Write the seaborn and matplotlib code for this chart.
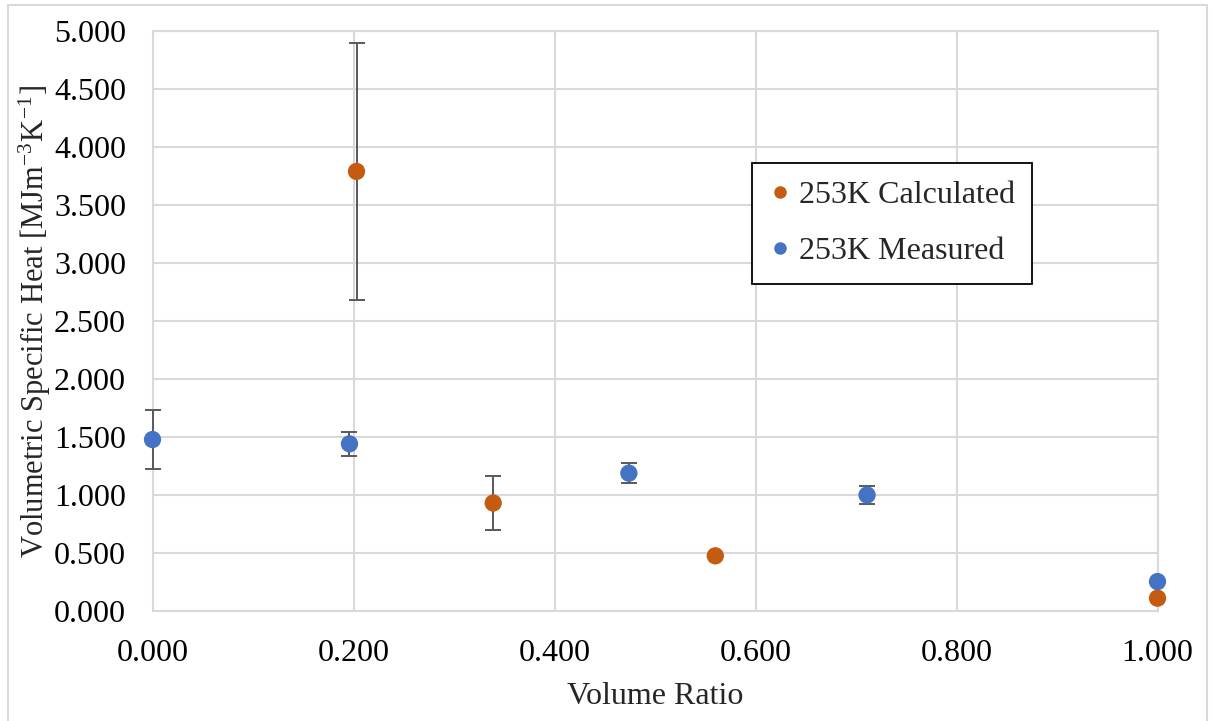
import numpy as np
import pandas as pd
import matplotlib
matplotlib.use("Agg")
import matplotlib.pyplot as plt
import seaborn as sns
from matplotlib.patches import Rectangle
from matplotlib.ticker import FormatStrFormatter, MultipleLocator

# Volume ratio and volumetric specific heat (MJ m^-3 K^-1) at 253 K
calc_ratio = [0.203, 0.339, 0.560, 1.000]
calc_heat = [3.790, 0.933, 0.478, 0.113]
calc_err = [1.106, 0.233, np.nan, np.nan]

meas_ratio = [0.000, 0.196, 0.474, 0.711, 1.000]
meas_heat = [1.480, 1.443, 1.190, 1.002, 0.256]
meas_err = [0.252, 0.105, 0.087, 0.075, np.nan]

series_names = ["253K Calculated", "253K Measured"]
series_colors = ["#C55A11", "#4472C4"]

df = pd.concat([
    pd.DataFrame({"ratio": calc_ratio, "heat": calc_heat, "err": calc_err,
                  "series": series_names[0]}),
    pd.DataFrame({"ratio": meas_ratio, "heat": meas_heat, "err": meas_err,
                  "series": series_names[1]}),
], ignore_index=True)

sns.set_theme(style="whitegrid")
plt.rcParams["font.family"] = ["Liberation Serif", "DejaVu Serif"]
plt.rcParams["mathtext.fontset"] = "stix"

W, H = 1213, 721
fig = plt.figure(figsize=(W / 100, H / 100), dpi=100)
fig.patch.set_facecolor("white")
ax = fig.add_axes([152.5 / W, 1 - 611.3 / H, (1157.5 - 152.5) / W, (611.3 - 31) / H])

# error bars first so the markers sit on top
for name, color in zip(series_names, series_colors):
    sub = df[df["series"] == name]
    eb = ax.errorbar(sub["ratio"], sub["heat"], yerr=sub["err"], fmt="none",
                     ecolor="#595959", elinewidth=1.4, capsize=5.5, capthick=1.4,
                     zorder=3)
    for art in eb.lines[1] + eb.lines[2]:
        art.set_clip_on(False)

sns.scatterplot(data=df, x="ratio", y="heat", hue="series",
                hue_order=series_names, palette=series_colors,
                s=155, edgecolor="none", ax=ax, zorder=4, legend=False,
                clip_on=False)

ax.set_xlim(0, 1)
ax.set_ylim(0, 5)
ax.xaxis.set_major_locator(MultipleLocator(0.2))
ax.yaxis.set_major_locator(MultipleLocator(0.5))
ax.xaxis.set_major_formatter(FormatStrFormatter("%.3f"))
ax.yaxis.set_major_formatter(FormatStrFormatter("%.3f"))
ax.grid(True, color="#d9d9d9", linewidth=1.5)
ax.set_axisbelow(True)
for sp in ax.spines.values():
    sp.set_color("#d9d9d9")
    sp.set_linewidth(1.5)
ax.tick_params(axis="both", length=0, labelsize=23, colors="black")
ax.tick_params(axis="y", pad=19)
ax.tick_params(axis="x", pad=20)

ax.set_xlabel("Volume Ratio", fontsize=23, labelpad=10)
ax.set_ylabel(r"Volumetric Specific Heat [MJm$^{\mathregular{-3}}$K$^{\mathregular{-1}}$]",
              fontsize=22, labelpad=1)

handles = [plt.Line2D([], [], marker="o", linestyle="none", markersize=9,
                      markerfacecolor=c, markeredgecolor="none")
           for c in series_colors]
leg = ax.legend(handles, series_names, loc="upper left",
                bbox_to_anchor=(0.597, 0.7725), fontsize=23, frameon=True,
                fancybox=False, framealpha=1, edgecolor="black",
                handlelength=0.6, handletextpad=0.3, labelspacing=0.85,
                borderpad=0.55, borderaxespad=0)
leg.get_frame().set_linewidth(1.3)

# light chart-area border
fig.patches.append(Rectangle((8 / W, -0.05), (1207 - 8) / W, 1.05 - 5 / H,
                             transform=fig.transFigure, fill=False,
                             edgecolor="#d9d9d9", linewidth=1.5))

fig.savefig("out.png", dpi=100)
